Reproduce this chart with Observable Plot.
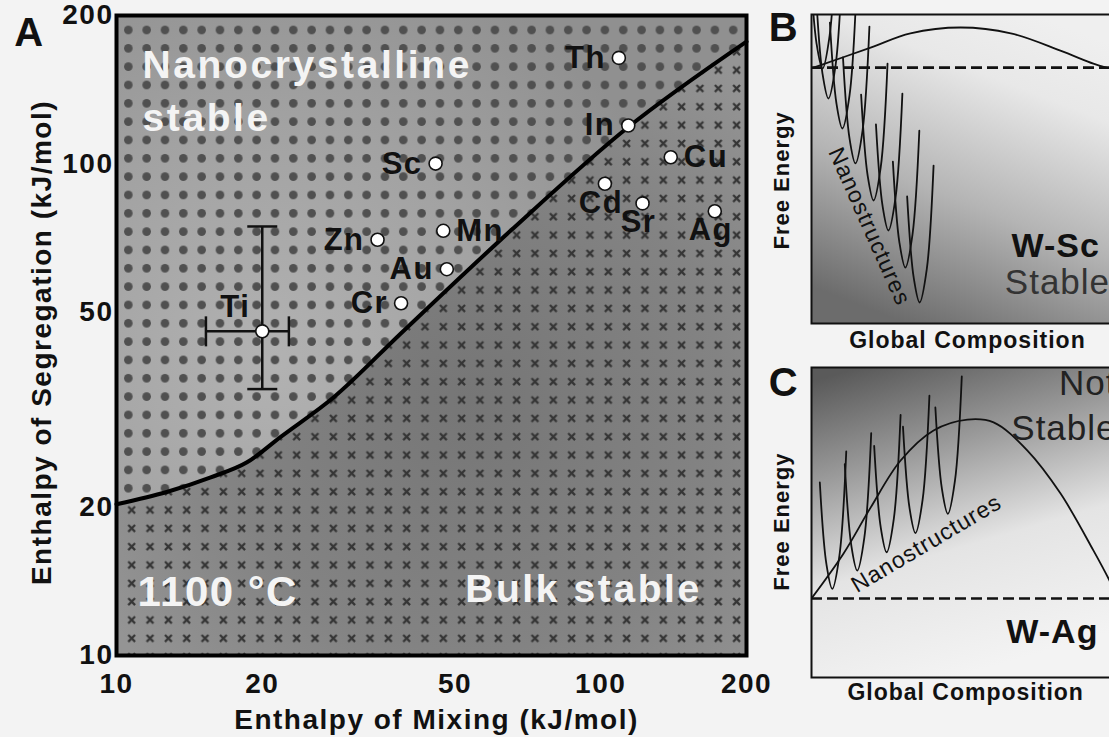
<!DOCTYPE html>
<html>
<head>
<meta charset="utf-8">
<script src="https://cdn.jsdelivr.net/npm/d3@7"></script>
<script src="https://cdn.jsdelivr.net/npm/@observablehq/plot@0.6"></script>
<style>
  html, body { margin: 0; padding: 0; }
  body {
    width: 1109px; height: 737px; overflow: hidden; position: relative;
    background: #f3f3f3;
    font-family: "Liberation Sans", Arial, Helvetica, sans-serif;
  }
  .panel { position: absolute; }
  #panelA { left: 0; top: 0; width: 780px; height: 737px; }
  #panelB { left: 760px; top: 0; width: 380px; height: 360px; }
  #panelC { left: 760px; top: 350px; width: 380px; height: 387px; }
  #paints { position: absolute; left: 0; top: 0; width: 0; height: 0; }
</style>
</head>
<body>
<!-- shared paint servers: halftone backgrounds and region textures -->
<svg id="paints" width="0" height="0" aria-hidden="true">
  <defs>
    <radialGradient id="bgUpper" gradientUnits="userSpaceOnUse" cx="270" cy="360" r="430">
      <stop offset="0" stop-color="#b2b2b2"/>
      <stop offset="0.55" stop-color="#a2a2a2"/>
      <stop offset="1" stop-color="#909090"/>
    </radialGradient>
    <radialGradient id="bgLower" gradientUnits="userSpaceOnUse" cx="470" cy="400" r="420">
      <stop offset="0" stop-color="#767676"/>
      <stop offset="0.6" stop-color="#838383"/>
      <stop offset="1" stop-color="#949494"/>
    </radialGradient>
    <pattern id="dots" patternUnits="userSpaceOnUse" x="119.16" y="20.83" width="18.33" height="18.33">
      <circle cx="9.17" cy="9.17" r="4.3" fill="#505050"/>
    </pattern>
    <pattern id="crosses" patternUnits="userSpaceOnUse" x="122.5" y="24.2" width="18.33" height="18.33">
      <path d="M5.8 5.8L12.6 12.6M12.6 5.8L5.8 12.6" stroke="#353535" stroke-width="2.3" fill="none"/>
    </pattern>
    <linearGradient id="bgB" x1="0.7" y1="0" x2="0.3" y2="1">
      <stop offset="0" stop-color="#efefef"/>
      <stop offset="0.22" stop-color="#e8e8e8"/>
      <stop offset="0.6" stop-color="#b4b4b4"/>
      <stop offset="1" stop-color="#6c6c6c"/>
    </linearGradient>
    <linearGradient id="bgC" x1="0.15" y1="0" x2="0.45" y2="1">
      <stop offset="0" stop-color="#5a5a5a"/>
      <stop offset="0.3" stop-color="#9a9a9a"/>
      <stop offset="0.62" stop-color="#e4e4e4"/>
      <stop offset="1" stop-color="#f3f3f3"/>
    </linearGradient>
  </defs>
</svg>

<div id="panelA" class="panel"></div>
<div id="panelB" class="panel"></div>
<div id="panelC" class="panel"></div>

<script>
// ---------- Panel A: stability map of W-based alloys at 1100 °C ----------
const elements = ["Th", "In", "Sc", "Cu", "Cd", "Sr", "Ag", "Zn", "Mn", "Au", "Cr", "Ti"];
const mixingEnthalpy = [109, 114, 45.6, 139.5, 102, 122, 172, 34.6, 47.3, 48.1, 38.7, 20];          // kJ/mol
const segregationEnthalpy = [164, 119.5, 100, 103, 91, 83, 80, 70, 73, 61, 52, 45.6];                // kJ/mol
const labelSide = ["left", "left", "left", "right", "below", "below", "below", "left", "right", "left", "left", "above"];

// uncertainty on the Ti estimate
const tiMixingRange = [15.3, 22.7];
const tiSegregationRange = [34.8, 74.5];

// boundary between nanocrystalline-stable and bulk-stable regions
const boundaryMixing = [10, 12.7, 15.6, 18.6, 21.8, 28.1, 38.6, 65.2, 113.7, 200];
const boundarySegregation = [20.3, 21.5, 23.0, 24.7, 27.8, 33.5, 45.1, 73.1, 118.4, 177];

const axisTicks = [10, 20, 50, 100, 200];

// ---------- Panels B and C: free-energy schematics ----------
// W-Sc: bulk solution curve, bulk reference level and nanostructure wells
const humpBComposition = [0.007, 0.199, 0.333, 0.502, 0.671, 0.838, 0.949, 0.993];
const humpBEnergy = [0.828, 0.893, 0.939, 0.958, 0.939, 0.883, 0.841, 0.828];
const bulkLevelB = 0.828;
const wellMinBComposition = [0.037, 0.057, 0.104, 0.148, 0.209, 0.259, 0.316, 0.364];
const wellMinBEnergy = [0.825, 0.728, 0.631, 0.518, 0.398, 0.301, 0.181, 0.068];

// W-Ag
const humpCComposition = [0, 0.108, 0.199, 0.300, 0.411, 0.525, 0.613, 0.727, 0.838, 0.949, 1.003, 1.03];
const humpCEnergy = [0.255, 0.400, 0.548, 0.700, 0.797, 0.832, 0.823, 0.732, 0.594, 0.410, 0.313, 0.255];
const bulkLevelC = 0.255;
const wellMinCComposition = [0.070, 0.154, 0.253, 0.350, 0.459];
const wellMinCEnergy = [0.286, 0.345, 0.404, 0.466, 0.528];

// outline of a single nanostructure well, relative to its minimum
const wellDx = [-0.042, -0.020, 0, 0.024, 0.047];
const wellDy = [0.343, 0.081, 0, 0.107, 0.443];

const font = '"Liberation Sans", Arial, Helvetica, sans-serif';
const ink = "#111";

// ---------- build panel A ----------
const points = elements.map((name, i) => ({
  name, mixing: mixingEnthalpy[i], segregation: segregationEnthalpy[i], side: labelSide[i]
}));
const boundary = boundaryMixing.map((x, i) => ({x, y: boundarySegregation[i]}));
const ti = points.find((d) => d.name === "Ti");

// flat error-bar caps
const hbar = {draw(ctx, size) { const r = Math.sqrt(size / Math.PI); ctx.moveTo(-r, 0); ctx.lineTo(r, 0); }};
const vbar = {draw(ctx, size) { const r = Math.sqrt(size / Math.PI); ctx.moveTo(0, -r); ctx.lineTo(0, r); }};

const labelOpts = {
  left: {textAnchor: "end", dx: -13},
  right: {textAnchor: "start", dx: 13},
  below: {textAnchor: "middle", dx: -4, dy: 19},
  above: {textAnchor: "middle", dx: -27, dy: -24}
};
const pointLabels = Object.entries(labelOpts).map(([side, o]) =>
  Plot.text(points.filter((d) => d.side === side), {
    x: "mixing", y: "segregation", text: "name",
    fontSize: 31, fontWeight: "bold", fill: ink, lineAnchor: "middle", ...o
  })
);
const note = (txt, o) => Plot.text([txt], {text: (d) => d, fontWeight: "bold", ...o});
const curve = "monotone-x";
const regionNames = ["Nanocrystalline", "stable", "Bulk stable"];

const chartA = Plot.plot({
  width: 780, height: 737,
  marginLeft: 116, marginRight: 34, marginTop: 15, marginBottom: 82,
  style: {background: "transparent", fontFamily: font, fontWeight: "bold", fontSize: "28px",
          letterSpacing: "1.5px", color: ink, maxWidth: "none", overflow: "visible"},
  x: {type: "log", domain: [10, 200]},
  y: {type: "log", domain: [10, 200]},
  marks: [
    Plot.areaY(boundary, {x: "x", y1: "y", y2: 200, curve, fill: "url(#bgUpper)"}),
    Plot.areaY(boundary, {x: "x", y1: 10, y2: "y", curve, fill: "url(#bgLower)"}),
    Plot.areaY(boundary, {x: "x", y1: "y", y2: 200, curve, fill: "url(#dots)"}),
    Plot.areaY(boundary, {x: "x", y1: 10, y2: "y", curve, fill: "url(#crosses)"}),
    Plot.line(boundary, {x: "x", y: "y", curve, stroke: "#000", strokeWidth: 4}),

    note(regionNames[0], {frameAnchor: "top-left", dx: 26, dy: 62, lineAnchor: "bottom", textAnchor: "start", fontSize: 39, fill: "#f4f4f4"}),
    note(regionNames[1], {frameAnchor: "top-left", dx: 26, dy: 115, lineAnchor: "bottom", textAnchor: "start", fontSize: 39, fill: "#f4f4f4"}),
    note("1100 °C", {frameAnchor: "bottom-left", dx: 21, dy: -50, lineAnchor: "bottom", textAnchor: "start", fontSize: 42, fill: "#f4f4f4"}),
    note(regionNames[2], {frameAnchor: "bottom", dx: 152, dy: -54, lineAnchor: "bottom", textAnchor: "middle", fontSize: 39, fill: "#f4f4f4"}),

    Plot.ruleX([ti], {x: "mixing", y1: () => tiSegregationRange[0], y2: () => tiSegregationRange[1], stroke: ink, strokeWidth: 2.5}),
    Plot.ruleY([ti], {y: "segregation", x1: () => tiMixingRange[0], x2: () => tiMixingRange[1], stroke: ink, strokeWidth: 2.5}),
    Plot.dot(tiSegregationRange.map((s) => ({x: ti.mixing, y: s})), {x: "x", y: "y", symbol: hbar, r: 15, stroke: ink, strokeWidth: 2.5}),
    Plot.dot(tiMixingRange.map((m) => ({x: m, y: ti.segregation})), {x: "x", y: "y", symbol: vbar, r: 15, stroke: ink, strokeWidth: 2.5}),

    Plot.dot(points, {x: "mixing", y: "segregation", r: 6.5, fill: "white", stroke: ink, strokeWidth: 1.6}),
    ...pointLabels,

    Plot.axisX({ticks: axisTicks, tickFormat: (d) => String(d), tickSize: 0, tickPadding: 18, label: null}),
    Plot.axisY({ticks: axisTicks, tickFormat: (d) => String(d), tickSize: 0, tickPadding: 3, label: null}),
    Plot.frame({stroke: "#000", strokeWidth: 4}),

    note("Enthalpy of Mixing (kJ/mol)", {frameAnchor: "bottom", dx: 5, dy: 73, lineAnchor: "bottom", fontSize: 28, fill: ink}),
    note("Enthalpy of Segregation (kJ/mol)", {frameAnchor: "left", dx: -74, dy: 7, rotate: -90, textAnchor: "middle", lineAnchor: "middle", fontSize: 28, fill: ink}),
    note("A", {frameAnchor: "top-left", dx: -87, dy: 30, lineAnchor: "bottom", textAnchor: "middle", fontSize: 40, fill: ink})
  ]
});
// the white region names are set wider than the other labels
d3.select(chartA).selectAll("text")
  .filter(function () { return regionNames.includes(this.textContent); })
  .style("letter-spacing", "2.6px");
document.getElementById("panelA").append(chartA);

// ---------- build panels B and C ----------
function wells(xs, ys) {
  return xs.flatMap((x0, i) => wellDx.map((dx, j) => ({id: i, x: x0 + dx, y: ys[i] + wellDy[j]})));
}
const txt = (s, o) => Plot.text([s], {text: (d) => d, fill: ink, lineAnchor: "middle", textAnchor: "middle", ...o});

function schematic({height, marginTop, marginBottom, gradient, humpX, humpY, bulk, minX, minY, extra}) {
  const hump = humpX.map((x, i) => ({x, y: humpY[i]}));
  return Plot.plot({
    width: 380, height,
    marginLeft: 51, marginRight: 10, marginTop, marginBottom,
    style: {background: "transparent", fontFamily: font, letterSpacing: "1px", color: ink, maxWidth: "none", overflow: "visible"},
    x: {domain: [0, 1.074], axis: null},
    y: {domain: [0, 1], axis: null},
    marks: [
      Plot.frame({fill: `url(#${gradient})`}),
      Plot.ruleY([bulk], {stroke: ink, strokeWidth: 2.6, strokeDasharray: "11,5"}),
      Plot.line(hump, {x: "x", y: "y", curve: "catmull-rom", stroke: ink, strokeWidth: 1.8, clip: true}),
      Plot.line(wells(minX, minY), {x: "x", y: "y", z: "id", curve: "catmull-rom", stroke: ink, strokeWidth: 1.8, clip: true}),
      Plot.frame({stroke: ink, strokeWidth: 2}),
      ...extra
    ]
  });
}

const chartB = schematic({
  height: 360, marginTop: 14, marginBottom: 37, gradient: "bgB",
  humpX: humpBComposition, humpY: humpBEnergy, bulk: bulkLevelB,
  minX: wellMinBComposition, minY: wellMinBEnergy,
  extra: [
    txt("Nanostructures", {x: () => 0.195, y: () => 0.314, rotate: 66, fontSize: 23, fontWeight: "normal"}),
    txt("W-Sc", {x: () => 0.822, y: () => 0.249, fontSize: 34, fontWeight: "bold"}),
    txt("Stable", {x: () => 0.828, y: () => 0.133, fontSize: 35, fontWeight: "normal", fill: "#333"}),
    txt("Free Energy", {x: () => -0.098, y: () => 0.463, rotate: -90, fontSize: 22, fontWeight: "bold"}),
    txt("Global Composition", {x: () => 0.525, y: () => -0.055, fontSize: 23, fontWeight: "bold"}),
    txt("B", {x: () => -0.094, y: () => 0.955, fontSize: 40, fontWeight: "bold"})
  ]
});
document.getElementById("panelB").append(chartB);

const chartC = schematic({
  height: 387, marginTop: 17, marginBottom: 60, gradient: "bgC",
  humpX: humpCComposition, humpY: humpCEnergy, bulk: bulkLevelC,
  minX: wellMinCComposition, minY: wellMinCEnergy,
  extra: [
    txt("Nanostructures", {x: () => 0.387, y: () => 0.432, rotate: -30.6, fontSize: 23, fontWeight: "normal"}),
    txt("W-Ag", {x: () => 0.811, y: () => 0.145, fontSize: 34, fontWeight: "bold"}),
    txt("Not", {x: () => 1.027, y: () => 0.948, textAnchor: "end", fontSize: 35, fontWeight: "normal", fill: "#222"}),
    txt("Stable", {x: () => 1.027, y: () => 0.803, textAnchor: "end", fontSize: 35, fontWeight: "normal", fill: "#222"}),
    txt("Free Energy", {x: () => -0.098, y: () => 0.503, rotate: -90, fontSize: 22, fontWeight: "bold"}),
    txt("Global Composition", {x: () => 0.519, y: () => -0.048, fontSize: 23, fontWeight: "bold"}),
    txt("C", {x: () => -0.094, y: () => 0.948, fontSize: 40, fontWeight: "bold"})
  ]
});
document.getElementById("panelC").append(chartC);
</script>
</body>
</html>
